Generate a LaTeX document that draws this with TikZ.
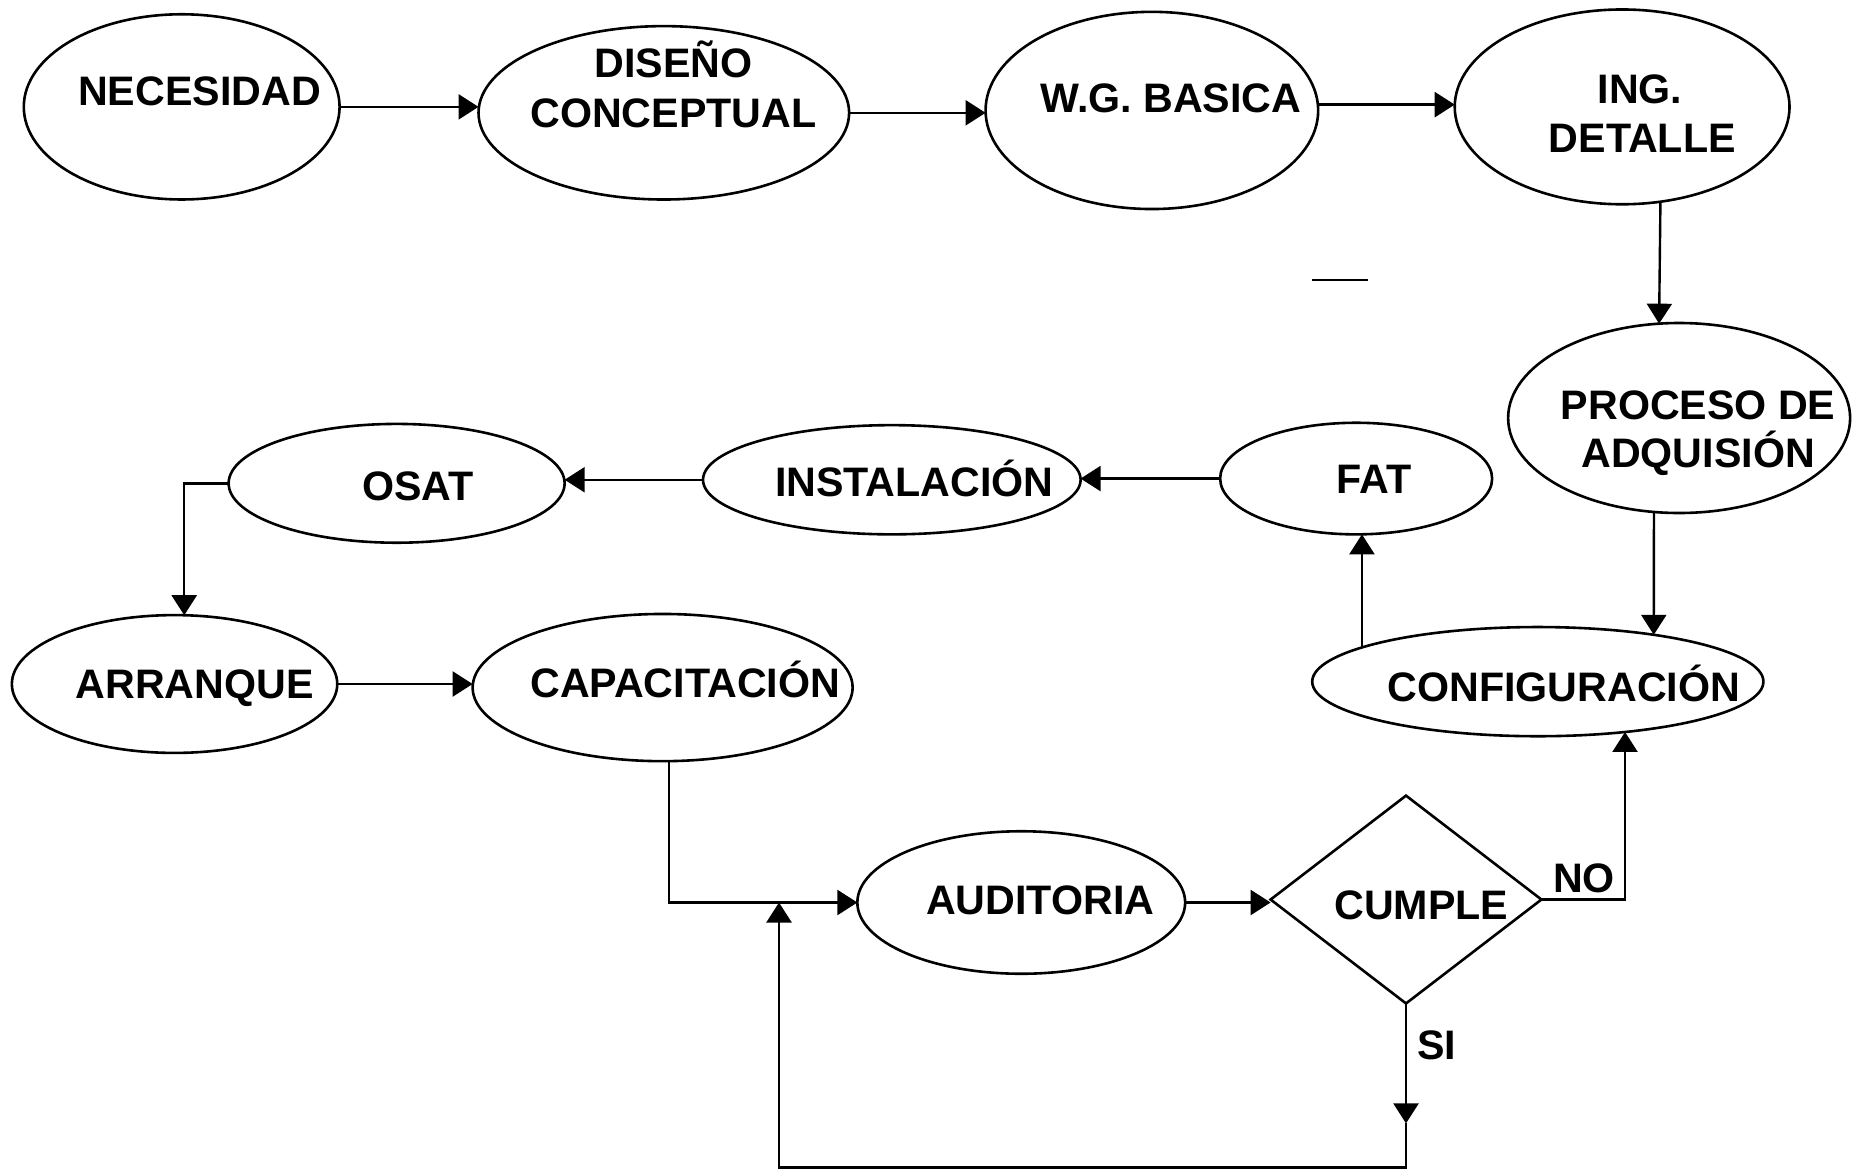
\documentclass[tikz,border=0pt]{standalone}
\usepackage{fontspec}
\setmainfont{Liberation Sans}
\usetikzlibrary{shapes.geometric,arrows.meta}
\begin{document}
\begin{tikzpicture}[x=0.59375pt,y=-0.59375pt,
  oval/.style 2 args={ellipse,draw,line width=1.3pt,inner sep=0pt,outer sep=0pt,
    minimum width=#1,minimum height=#2},
  decision/.style={diamond,draw,line width=1.3pt,inner sep=0pt,outer sep=0pt,
    minimum width=135.4pt,minimum height=103.9pt},
  lbl/.style={anchor=base,inner sep=0pt,font=\fontsize{20.6}{24}\selectfont\bfseries},
  conn/.style={line width=1.2pt,-{Triangle[length=10pt,width=12.5pt]}},
  wire/.style={line width=1.1pt}]

% page
\fill[white] (0,0) rectangle (1568,986);
\useasboundingbox (0,0) rectangle (1568,986);

% stages
\node[oval={157.9pt}{92.6pt}] (nec)  at (153,90)    {};
\node[oval={185.3pt}{86.7pt}] (dis)  at (559,95)    {};
\node[oval={166.3pt}{98.6pt}] (wg)   at (970,93)    {};
\node[oval={167.4pt}{97.4pt}] (ing)  at (1366,90)   {};
\node[oval={171.0pt}{95.0pt}] (proc) at (1414,352)  {};
\node[oval={136.0pt}{55.8pt}] (fat)  at (1142,403)  {};
\node[oval={188.8pt}{54.6pt}] (inst) at (751,404)   {};
\node[oval={168.0pt}{59.4pt}] (osat) at (334,407)   {};
\node[oval={162.7pt}{68.9pt}] (arr)  at (147,576)   {};
\node[oval={190.0pt}{73.6pt}] (cap)  at (558,579)   {};
\node[oval={225.6pt}{54.6pt}] (conf) at (1295,574)  {};
\node[oval={163.9pt}{71.25pt}] (aud) at (860,760)   {};
\node[decision] (cum) at (1184,757.5) {};

% stage names
\node[lbl] (tnec)  at (168,88.5)   {NECESIDAD};
\node[lbl] (tdis1) at (567,65.5)   {DISEÑO};
\node[lbl] (tdis2) at (567,107.5)  {CONCEPTUAL};
\node[lbl] (twg)   at (986,94.5)   {W.G. BASICA};
\node[lbl] (ting1) at (1381,87.5)  {ING.};
\node[lbl] (ting2) at (1383,128.5) {DETALLE};
\node[lbl] (tpro1) at (1430,353.5) {PROCESO DE};
\node[lbl] (tpro2) at (1430,393.5) {ADQUISIÓN};
\node[lbl] (tfat)  at (1157,415.5) {FAT};
\node[lbl] (tinst) at (770,418.5)  {INSTALACIÓN};
\node[lbl] (tosat) at (352,421.5)  {OSAT};
\node[lbl] (tarr)  at (164,588.5)  {ARRANQUE};
\node[lbl] (tcap)  at (577,587.5)  {CAPACITACIÓN};
\node[lbl] (tconf) at (1317,590.5) {CONFIGURACIÓN};
\node[lbl] (taud)  at (876,770.5)  {AUDITORIA};
\node[lbl] (tcum)  at (1197,774.5) {CUMPLE};
\node[lbl] (tno)   at (1334,751.5) {NO};
\node[lbl] (tsi)   at (1210,892.5) {SI};

% flow
\draw[conn] (nec.east) -- (nec.east -| dis.west);
\draw[conn] (dis.east) -- (dis.east -| wg.west);
\draw[conn] (wg.2.9) -- (wg.2.9 -| ing.west);
\draw[conn] (ing.-68.8) -- (proc.102.1);
\draw[conn] (proc.-105.5) -- (conf.22.2);
\draw[conn] (conf.169) -- (conf.169 |- fat.south);
\draw[conn] (fat.west) -- (fat.west -| inst.east);
\draw[conn] (inst.west) -- (inst.west -| osat.east);
\draw[conn] (osat.west) -| (arr.82.1);
\draw[conn] (arr.east) -- (arr.east -| cap.west);
\draw[conn] (cap.-85.4) |- (aud.west);
\draw[conn] (aud.east) -- (aud.east -| cum.west);
\draw[conn] (cum.east) -| (conf.-30.6);

% "SI" branch loops back to the audit
\coordinate (sidown) at (1184,946);
\coordinate (loopR)  at (1184,983);
\coordinate (loopL)  at (656,983);
\draw[conn] (cum.south) -- (sidown);
\draw[conn] (sidown) -- (loopR) -- (loopL) -- (loopL |- aud.west);

% short stroke
\coordinate (markA) at (1105,236);
\coordinate (markB) at (1152,236);
\draw[wire] (markA) -- (markB);
\end{tikzpicture}
\end{document}
